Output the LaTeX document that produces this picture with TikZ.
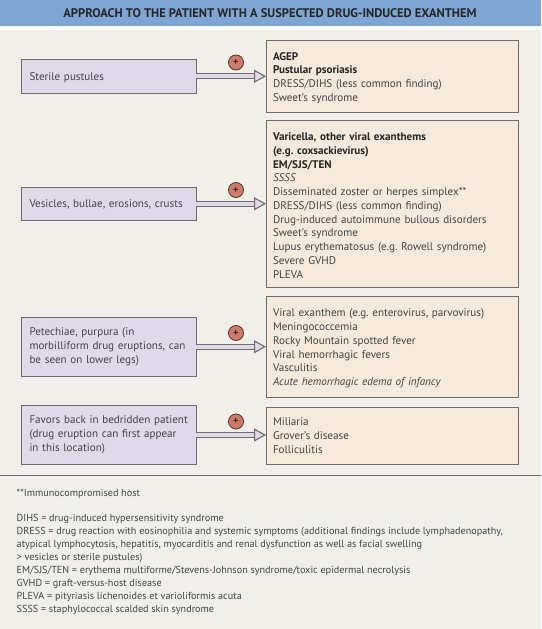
\documentclass[tikz,border=0pt]{standalone}
\usepackage{fontspec}
\setmainfont{PT Sans}
\usetikzlibrary{positioning,arrows.meta}
\definecolor{headblue}{HTML}{7FA6D3}
\definecolor{paper}{HTML}{F1EFEA}
\definecolor{lilac}{HTML}{DFD9EA}
\definecolor{cream}{HTML}{F5EADB}
\definecolor{rim}{HTML}{6F6D6B}
\definecolor{redplus}{HTML}{CE7C69}
\definecolor{ink}{HTML}{444444}
\newcommand{\hit}[1]{{\bfseries\color{black!85}#1}}
\begin{document}
\frenchspacing
\begin{tikzpicture}[
        x = 1pt, y = -1pt,
        every node/.style = {font = \fontsize{11.1}{13.75}\selectfont, text = ink},
        lift/.style = {execute at begin node = {\rule{0pt}{#1}}},
        sign/.style = {draw = rim, fill = lilac, line width = 1pt, align = left, outer sep = 0pt,
          minimum width = 174.5pt, text width = 158.5pt, inner xsep = 8pt, inner ysep = 0pt},
        dx/.style = {draw = rim, fill = cream, line width = 1pt, align = left, outer sep = 0pt,
          minimum width = 252pt, text width = 238pt, inner xsep = 7pt, inner ysep = 0pt},
        plus/.style = {draw = black!60!redplus, fill = redplus, circle, line width = .8pt,
          minimum size = 15pt, inner sep = 0pt, font = \fontsize{11}{11}\selectfont, text = black},
        lead/.style = {draw = rim, double = lilac, double distance = 3.8pt, line width = 1.1pt,
          -{Triangle[open, length = 12pt, width = 13pt, line width = 1.1pt, fill = lilac]}},
        note/.style = {anchor = north west, inner sep = 0pt, align = left, font = \fontsize{10.2}{12.9}\selectfont},
      ]
        % backdrop
        \fill[white] (0,0) rectangle (541,629);
        \fill[headblue] (0,0) rectangle (541,26);
        \fill[paper] (0,30) rectangle (541,629);
        \useasboundingbox (0,0) rectangle (541,629);
        \node[font = \fontsize{12.5}{14}\bfseries\selectfont, text = black!85] (title) at (270,13.5)
          {APPROACH TO THE PATIENT WITH A SUSPECTED DRUG-INDUCED EXANTHEM};

        % right column
        \node[dx, lift = 11.5pt, minimum height = 71.5pt, anchor = north west] (dxpustule) at (266,40.5)
          {\hit{AGEP}\\ \hit{Pustular psoriasis}\\ DRESS/DIHS (less common finding)\\ Sweet’s syndrome};
        \node[dx, lift = 11.5pt, minimum height = 167.5pt, below = 8pt of dxpustule] (dxvesicle)
          {\hit{Varicella, other viral exanthems}\\ \hit{(e.g. coxsackievirus)}\\ \hit{EM/SJS/TEN}\\ \textit{SSSS}\\
           Disseminated zoster or herpes simplex**\\ DRESS/DIHS (less common finding)\\
           Drug-induced autoimmune bullous disorders\\ Sweet’s syndrome\\
           Lupus erythematosus (e.g. Rowell syndrome)\\ Severe GVHD\\ PLEVA};
        \node[dx, lift = 11.5pt, minimum height = 100.5pt, below = 9pt of dxvesicle] (dxpurpura)
          {Viral exanthem (e.g. enterovirus, parvovirus)\\ Meningococcemia\\ Rocky Mountain spotted fever\\
           Viral hemorrhagic fevers\\ Vasculitis\\ \textit{Acute hemorrhagic edema of infancy}};
        \node[dx, minimum height = 56.5pt, below = 10.5pt of dxpurpura] (dxback)
          {Miliaria\\ Grover’s disease\\ Folliculitis};

        % left column
        \node[sign, lift = 10pt, minimum height = 33.5pt, anchor = west] (pustule) at (21.5,76.25) {Sterile pustules};
        \node[sign, lift = 10pt, minimum height = 33.5pt, anchor = west] (vesicle) at (21.5,203.75) {Vesicles, bullae, erosions, crusts};
        \node[sign, minimum height = 58.5pt, anchor = west] (purpura) at (21.5,346.75)
          {Petechiae, purpura (in\\ morbilliform drug eruptions, can\\ be seen on lower legs)};
        \node[sign, minimum height = 58.5pt, anchor = west] (back) at (21.5,435)
          {Favors back in bedridden patient\\ (drug eruption can first appear\\ in this location)};

        % arrows and plus signs
        \draw[lead] (pustule.east) -- (pustule.east -| dxpustule.west);
        \draw[lead] (vesicle.east) -- (vesicle.east -| dxvesicle.west);
        \draw[lead] (purpura.east) -- (purpura.east -| dxpurpura.west);
        \draw[lead] (back.east) -- (back.east -| dxback.west);
        \node[plus] (pluspustule) at (236,62.5) {+};
        \node[plus] (plusvesicle) at (236,190) {+};
        \node[plus] (pluspurpura) at (236,333) {+};
        \node[plus] (plusback) at (236,421.5) {+};

        % footnotes
        \draw[rim, line width = 1pt] (0,475.5) -- (541,475.5);
        \node[note] (hostnote) at (16.5,489) {**Immunocompromised host};
        \node[note] (glossary) at (16.5,514.3)
          {DIHS = drug-induced hypersensitivity syndrome\\
           DRESS = drug reaction with eosinophilia and systemic symptoms (additional findings include lymphadenopathy,\\
           atypical lymphocytosis, hepatitis, myocarditis and renal dysfunction as well as facial swelling\\
           > vesicles or sterile pustules)\\
           EM/SJS/TEN = erythema multiforme/Stevens-Johnson syndrome/toxic epidermal necrolysis\\
           GVHD = graft-versus-host disease\\
           PLEVA = pityriasis lichenoides et varioliformis acuta\\
           SSSS = staphylococcal scalded skin syndrome};
      \end{tikzpicture}
\end{document}
